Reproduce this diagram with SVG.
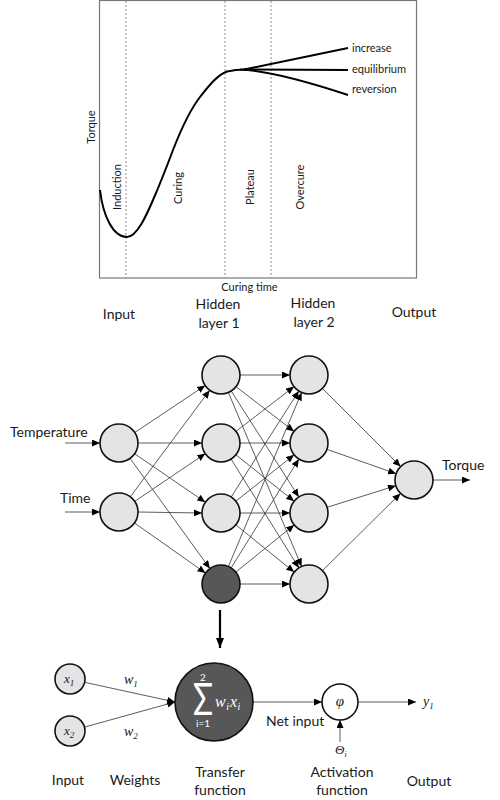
<svg xmlns="http://www.w3.org/2000/svg" width="500" height="800" viewBox="0 0 500 800">
<style>
text{font-family:Lato,"Liberation Sans",sans-serif;fill:#1a1a1a}
.ch{font-size:11px}
.hd{font-size:14px;text-anchor:middle}
.lb{font-size:14px}
.m{font-family:"Liberation Serif","DejaVu Serif",serif;font-style:italic}
.w{fill:#fff}
.dot{stroke:#8a8a8a;stroke-width:1;stroke-dasharray:2,2;fill:none}
.cv{stroke:#000;stroke-width:2;fill:none}
.n{fill:#e4e4e4;stroke:#111;stroke-width:1.6}
.nd{fill:#575757;stroke:#111;stroke-width:1.6}
.e{stroke:#333;stroke-width:0.8;fill:none;marker-end:url(#ah)}
</style>
<defs>
<marker id="ah" markerUnits="userSpaceOnUse" markerWidth="8" markerHeight="7" refX="8" refY="3.5" orient="auto"><path d="M0,0 L8,3.5 L0,7 z" fill="#000"/></marker>
<marker id="ah2" markerUnits="userSpaceOnUse" markerWidth="10" markerHeight="8" refX="10" refY="4" orient="auto"><path d="M0,0 L10,4 L0,8 z" fill="#000"/></marker>
</defs>

<g id="chart">
<rect x="99.5" y="0.5" width="317" height="277.5" fill="#fff" stroke="#777" stroke-width="1.2"/>
<line class="dot" x1="126" y1="1" x2="126" y2="278"/>
<line class="dot" x1="225" y1="1" x2="225" y2="278"/>
<line class="dot" x1="271" y1="1" x2="271" y2="278"/>
<path class="cv" d="M100,190 C103,216 113,237 127,237 C137,237 147,214 153,200 C160,184 167,166 173,150 C180,132 190,110 200,97 C208,87 217,75 227,71.5 C234,69.8 240,69.5 246,69.5"/>
<path class="cv" d="M244,69.5 L348,48"/>
<path class="cv" d="M244,69.5 L348,70"/>
<path class="cv" d="M240,69.5 Q275,71 348,95"/>
<text class="ch" x="352" y="51.5">increase</text>
<text class="ch" x="352" y="73">equilibrium</text>
<text class="ch" x="352" y="93">reversion</text>
<text class="ch" transform="translate(94.5,127) rotate(-90)" text-anchor="middle">Torque</text>
<text class="ch" transform="translate(120.5,187) rotate(-90)" text-anchor="middle">Induction</text>
<text class="ch" transform="translate(181.5,188) rotate(-90)" text-anchor="middle">Curing</text>
<text class="ch" transform="translate(253.5,187) rotate(-90)" text-anchor="middle">Plateau</text>
<text class="ch" transform="translate(303.5,187) rotate(-90)" text-anchor="middle">Overcure</text>
<text class="ch" x="249.5" y="291" text-anchor="middle">Curing time</text>
</g>

<g id="layer-labels">
<text class="hd" x="119" y="319">Input</text>
<text class="hd" x="218" y="309">Hidden</text>
<text class="hd" x="219" y="328">layer 1</text>
<text class="hd" x="313" y="308">Hidden</text>
<text class="hd" x="314" y="327">layer 2</text>
<text class="hd" x="414" y="317">Output</text>
</g>

<g id="connectors">
<line class="e" x1="65" y1="443" x2="100" y2="443"/>
<line class="e" x1="65" y1="512" x2="100" y2="512"/>
<line class="e" x1="134.8" y1="432.5" x2="205.2" y2="385.5"/>
<line class="e" x1="138" y1="443" x2="202" y2="443"/>
<line class="e" x1="134.7" y1="453.8" x2="205.3" y2="502.2"/>
<line class="e" x1="130.1" y1="458.4" x2="209.9" y2="568.6"/>
<line class="e" x1="130.3" y1="496.8" x2="209.7" y2="390.2"/>
<line class="e" x1="134.7" y1="501.4" x2="205.3" y2="453.6"/>
<line class="e" x1="138" y1="512" x2="202" y2="513"/>
<line class="e" x1="134.5" y1="523" x2="205.5" y2="573"/>
<line class="e" x1="240" y1="375" x2="290" y2="375"/>
<line class="e" x1="236" y1="386.6" x2="294" y2="431.4"/>
<line class="e" x1="231.2" y1="391" x2="298.8" y2="497"/>
<line class="e" x1="228.4" y1="392.5" x2="301.6" y2="566.5"/>
<line class="e" x1="236" y1="431.4" x2="294" y2="386.6"/>
<line class="e" x1="240" y1="443" x2="290" y2="443"/>
<line class="e" x1="235.9" y1="454.8" x2="294.1" y2="501.2"/>
<line class="e" x1="231.1" y1="459.1" x2="298.9" y2="567.9"/>
<line class="e" x1="231.2" y1="497" x2="298.8" y2="391"/>
<line class="e" x1="235.9" y1="501.2" x2="294.1" y2="454.8"/>
<line class="e" x1="240" y1="513" x2="290" y2="513"/>
<line class="e" x1="235.8" y1="524.9" x2="294.2" y2="572.1"/>
<line class="e" x1="228.4" y1="566.5" x2="301.6" y2="392.5"/>
<line class="e" x1="231.1" y1="567.9" x2="298.9" y2="459.1"/>
<line class="e" x1="235.8" y1="572.1" x2="294.2" y2="524.9"/>
<line class="e" x1="240" y1="584" x2="290" y2="584"/>
<line class="e" x1="322.4" y1="388.4" x2="400.6" y2="466.6"/>
<line class="e" x1="326.9" y1="449.3" x2="396.1" y2="473.7"/>
<line class="e" x1="327.1" y1="507.3" x2="395.9" y2="485.7"/>
<line class="e" x1="322.5" y1="570.6" x2="400.5" y2="493.4"/>
<line class="e" x1="433" y1="480" x2="470" y2="480"/>
<line x1="220" y1="610" x2="220" y2="648" stroke="#000" stroke-width="2.2" marker-end="url(#ah2)"/>
<line class="e" x1="84.6" y1="682.3" x2="175" y2="702"/>
<line class="e" x1="84.5" y1="727.1" x2="175" y2="702"/>
<line class="e" x1="253" y1="702" x2="322" y2="702"/>
<line class="e" x1="358" y1="702" x2="416" y2="702"/>
<line class="e" x1="340" y1="742" x2="340" y2="720"/>
</g>

<g id="input-nodes">
<circle class="n" cx="119" cy="443" r="19"/>
<circle class="n" cx="119" cy="512" r="19"/>
<text class="lb" x="10" y="437">Temperature</text>
<text class="lb" x="60" y="503">Time</text>
</g>
<g id="hidden-1">
<circle class="n" cx="221" cy="375" r="19"/>
<circle class="n" cx="221" cy="443" r="19"/>
<circle class="n" cx="221" cy="513" r="19"/>
<circle class="nd" cx="221" cy="584" r="19"/>
</g>
<g id="hidden-2">
<circle class="n" cx="309" cy="375" r="19"/>
<circle class="n" cx="309" cy="443" r="19"/>
<circle class="n" cx="309" cy="513" r="19"/>
<circle class="n" cx="309" cy="584" r="19"/>
</g>
<g id="output-node">
<circle class="n" cx="414" cy="480" r="19"/>
<text class="lb" x="442" y="470">Torque</text>
</g>

<g id="neuron-inputs">
<circle class="n" cx="70" cy="679" r="15"/>
<circle class="n" cx="70" cy="731" r="15"/>
<text class="m" x="64" y="683" font-size="13">x<tspan font-size="9" dy="3">1</tspan></text>
<text class="m" x="64" y="735" font-size="13">x<tspan font-size="9" dy="3">2</tspan></text>
<text class="m" x="124" y="684" font-size="14">w<tspan font-size="9" dy="3">1</tspan></text>
<text class="m" x="124" y="736" font-size="14">w<tspan font-size="9" dy="3">2</tspan></text>
</g>
<g id="transfer">
<circle class="nd" cx="214" cy="702" r="39"/>
<text class="w" x="203" y="681" font-family="Liberation Serif,serif" font-size="10" text-anchor="middle">2</text>
<text class="w" transform="translate(203,715) scale(0.75,1)" x="0" y="0" font-family="Liberation Serif,serif" font-size="44" text-anchor="middle">Σ</text>
<text class="w" x="203" y="727" font-family="Liberation Serif,serif" font-size="10" text-anchor="middle">i=1</text>
<text class="m w" x="215" y="707" font-size="16">w<tspan font-size="10" dx="0.5" dy="3">i</tspan><tspan font-size="16" dx="1" dy="-3">x</tspan><tspan font-size="10" dx="0.5" dy="3">i</tspan></text>
</g>
<g id="activation">
<circle cx="340" cy="702" r="18" fill="#fff" stroke="#111" stroke-width="1.6"/>
<text class="m" x="340" y="706" font-size="15" text-anchor="middle">φ</text>
<text class="lb" x="266" y="726">Net input</text>
<text class="m" x="335" y="754" font-size="13">Θ<tspan font-size="8" dy="3">i</tspan></text>
<text class="m" x="423" y="706" font-size="14">y<tspan font-size="9" dy="3">1</tspan></text>
</g>
<g id="bottom-labels">
<text class="hd" x="68" y="785">Input</text>
<text class="hd" x="135" y="785">Weights</text>
<text class="hd" x="220" y="777">Transfer</text>
<text class="hd" x="220" y="795">function</text>
<text class="hd" x="342" y="777">Activation</text>
<text class="hd" x="342" y="795">function</text>
<text class="hd" x="429" y="786">Output</text>
</g>
</svg>
